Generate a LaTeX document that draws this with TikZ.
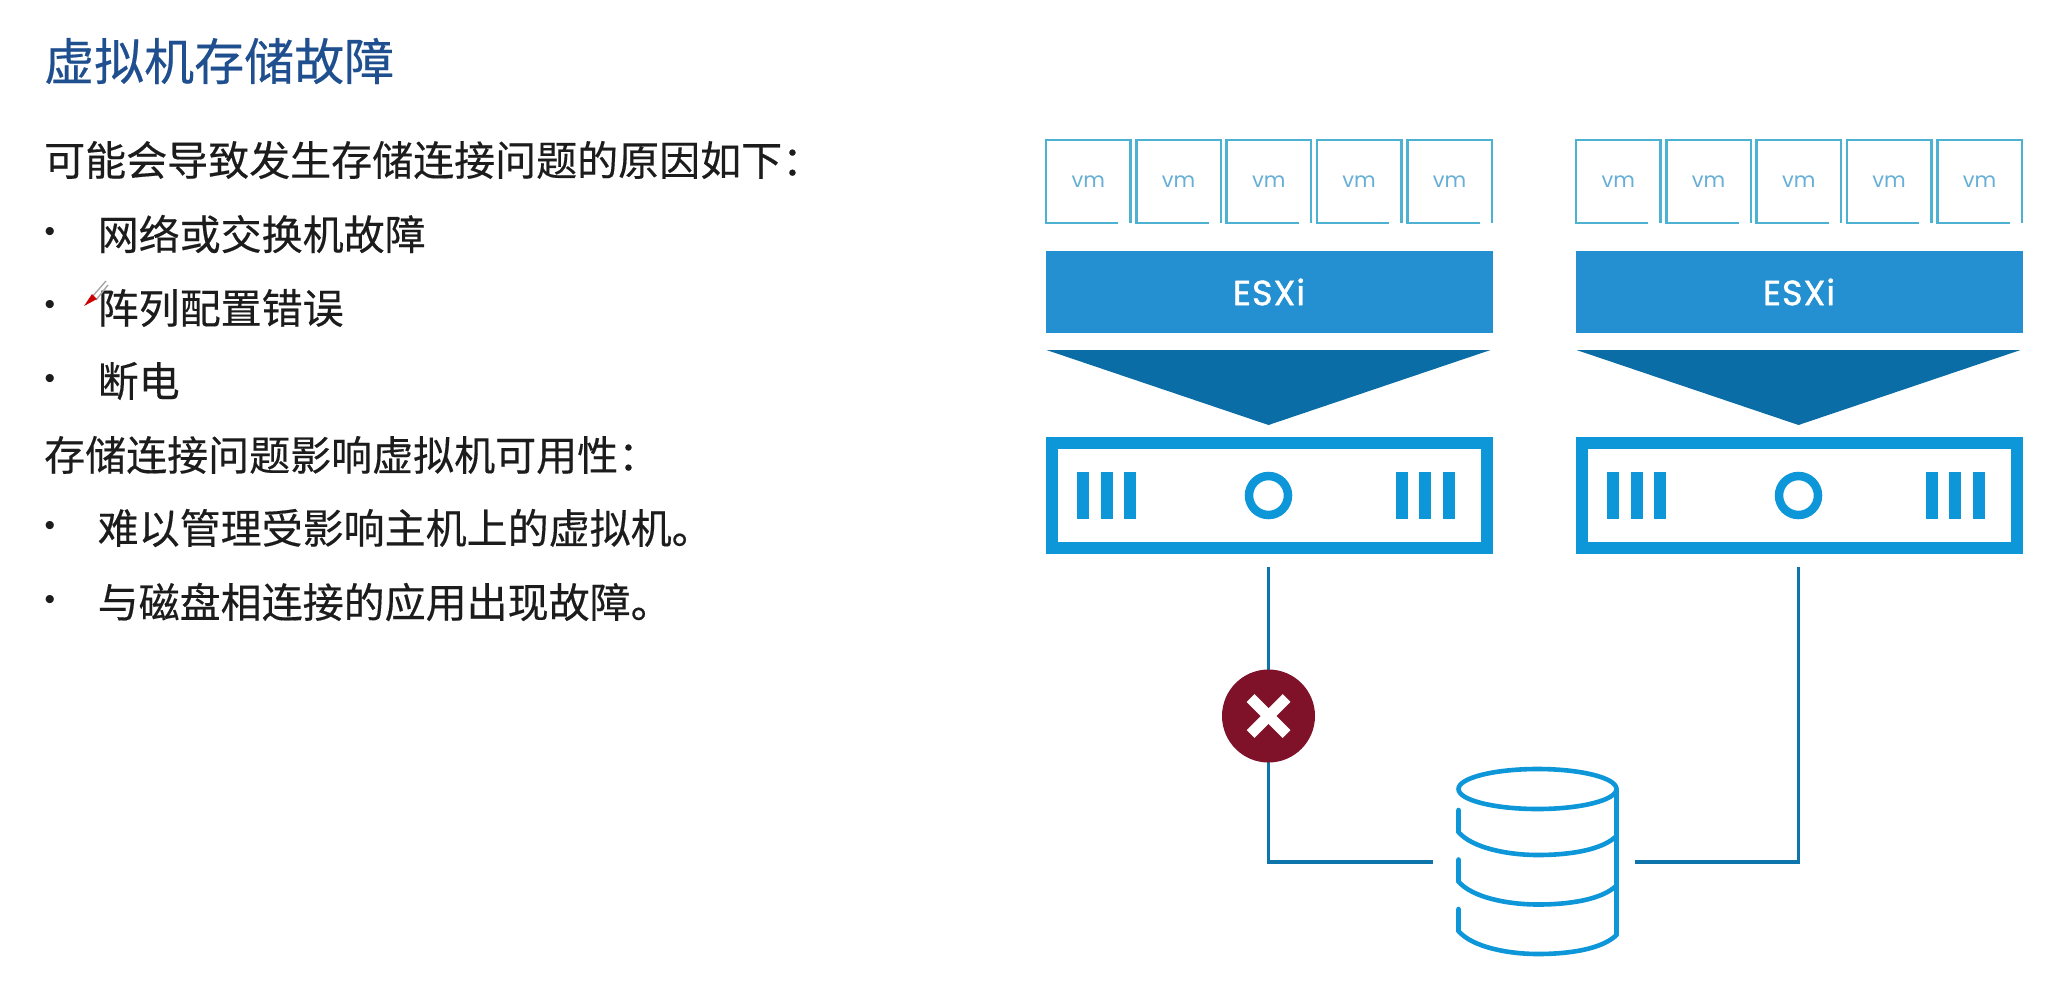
\documentclass[tikz,border=0pt]{standalone}
\usepackage{fontspec}
\setmainfont[FakeBold=0.35]{Noto Sans CJK SC}
\newfontfamily\latinf{Poppins}
\newfontfamily\latinb[FakeBold=1.2,LetterSpace=3]{Poppins}
\newfontfamily\bulletf{Liberation Sans}
\definecolor{titleblue}{HTML}{1F4F8F}
\definecolor{bodyink}{HTML}{1C1C1C}
\definecolor{vmline}{HTML}{4DB2D2}
\definecolor{vmtext}{HTML}{68AFD6}
\definecolor{esxiblue}{HTML}{2490D2}
\definecolor{funnel}{HTML}{0A6DA6}
\definecolor{srvblue}{HTML}{0D96D8}
\definecolor{linkblue}{HTML}{0E74AC}
\definecolor{alarm}{HTML}{7F1128}
\tikzset{
  x=1pt,y=-1pt,
  titletext/.style={anchor=west,inner sep=0pt,text=titleblue,font=\fontsize{50}{50}\selectfont},
  bodytext/.style={anchor=west,inner sep=0pt,text=bodyink,font=\fontsize{41}{41}\selectfont},
  bulletmark/.style={inner sep=0pt,text=bodyink,font=\bulletf\fontsize{30}{30}\selectfont},
  vmbox/.style={minimum width=84pt,minimum height=83pt,inner sep=0pt,text=vmtext,font=\latinf\fontsize{21}{21}\selectfont},
  vmedge/.style={draw=vmline,line width=2.4pt},
  esxibar/.style={fill=esxiblue,minimum width=447pt,minimum height=82pt,inner sep=0pt,text=white,font=\latinb\fontsize{35}{35}\selectfont},
  srvbox/.style={draw=srvblue,line width=12pt,minimum width=435pt,minimum height=105pt,inner sep=0pt},
  srvbar/.style={fill=srvblue,minimum width=12pt,minimum height=47pt,inner sep=0pt},
  srvled/.style={circle,draw=srvblue,line width=8.5pt,minimum size=39pt,inner sep=0pt},
  linkline/.style={draw=linkblue,line width=3.4pt},
  failmark/.style={circle,fill=alarm,minimum size=93pt,inner sep=0pt},
  dbstroke/.style={draw=srvblue,line width=4.6pt,line cap=round},
}
\newcommand{\hostunit}[2]{%
  \begin{scope}[shift={(#2,0)},name prefix=#1-]
    \foreach \k/\vx in {1/-180.3,2/-90,3/0.3,4/90.6,5/181}{
      \node[vmbox] (vm\k) at (\vx,181.5) {vm};
      \draw[vmedge] ([xshift=-12pt]vm\k.south east) -- (vm\k.south west) -- (vm\k.north west) -- (vm\k.north east) -- (vm\k.south east);
    }
    \node[esxibar] (esxi) at (0.5,292) {ESXi};
    \fill[funnel] (-222,350) -- (222,350) -- (0,425) -- cycle;
    \node[srvbox] (srv) at (0.5,495.5) {};
    \foreach \k/\vx in {1/-185.5,2/-162,3/-138.5,4/133,5/156.5,6/180.5}{
      \node[srvbar] (bar\k) at (\vx,495.5) {};
    }
    \node[srvled] (led) at (0,495.5) {};
  \end{scope}}
\begin{document}
\begin{tikzpicture}
\useasboundingbox[fill=white] (0,0) rectangle (2071,999);
% text column
\node[titletext] (title) at (44,61) {虚拟机存储故障};
\node[bodytext] (l1) at (44,160) {可能会导致发生存储连接问题的原因如下：};
\node[bulletmark] (b1) at (50,234) {•};
\node[bodytext] (l2) at (97.5,234) {网络或交换机故障};
\node[bulletmark] (b2) at (50,307) {•};
\node[bodytext] (l3) at (97.5,308) {阵列配置错误};
\node[bulletmark] (b3) at (50,381) {•};
\node[bodytext] (l4) at (97.5,381) {断电};
\node[bodytext] (l5) at (44,455) {存储连接问题影响虚拟机可用性：};
\node[bulletmark] (b4) at (50,528) {•};
\node[bodytext] (l6) at (97.5,528) {难以管理受影响主机上的虚拟机。};
\node[bulletmark] (b5) at (50,602) {•};
\node[bodytext] (l7) at (97.5,602) {与磁盘相连接的应用出现故障。};
% pen pointer
\draw[gray!70,line width=1.4pt] (92,297) -- (106,281) (96,300) -- (108,285);
\fill[red!80!black] (84,306) -- (92,294) -- (97,299) -- cycle;
% hosts
\hostunit{h1}{1268.5}
\hostunit{h2}{1798.5}
% storage
\coordinate (dbc) at (1537.5,862);
\node[minimum width=159pt,minimum height=172pt,inner sep=0pt] (db) at (dbc) {};
\draw[dbstroke] (1537.5,789) ellipse [x radius=79,y radius=20];
\draw[dbstroke] (1616.5,790) -- (1616.5,934);
\foreach \dy in {0,49.5,99}{
  \draw[dbstroke] (1458.5,810+\dy) -- (1458.5,832+\dy) .. controls (1472,848+\dy) and (1508,855+\dy) .. (1537.5,855+\dy) .. controls (1570,855+\dy) and (1602,850+\dy) .. (1616.5,836+\dy);
}
% connectors
\coordinate (corner1) at (h1-led.south |- db.west);
\coordinate (corner2) at (h2-led.south |- db.east);
\draw[linkline,shorten <=48pt,shorten >=25pt] (h1-led.south) -- (corner1) -- (db.west);
\draw[linkline,shorten <=48pt,shorten >=18pt] (h2-led.south) -- (corner2) -- (db.east);
% failure mark
\node[failmark] (fail) at (1268.5,716) {};
\draw[white,line width=11pt] ([shift={(-18,-18)}]fail.center) -- ([shift={(18,18)}]fail.center);
\draw[white,line width=11pt] ([shift={(18,-18)}]fail.center) -- ([shift={(-18,18)}]fail.center);
\end{tikzpicture}
\end{document}
